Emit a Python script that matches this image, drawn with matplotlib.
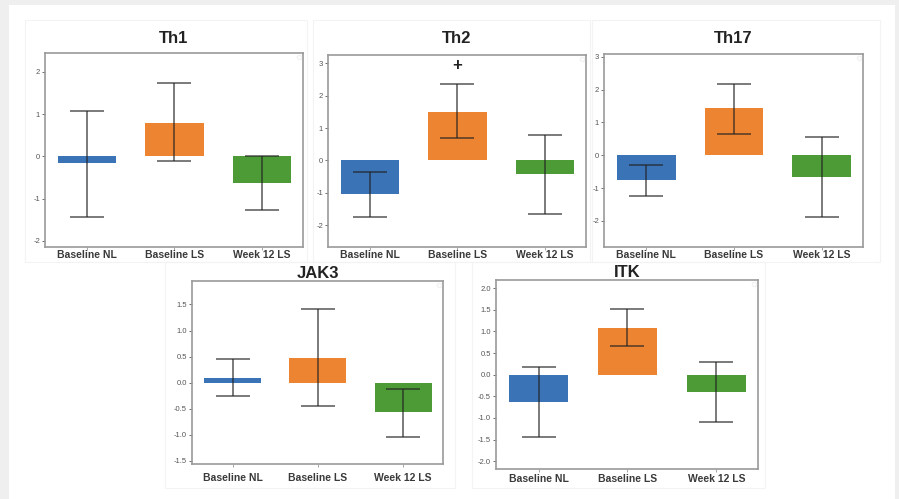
import matplotlib.pyplot as plt
from matplotlib.patches import Rectangle
import numpy as np

plt.rcParams['font.family'] = ['Liberation Sans', 'DejaVu Sans']

# Groups and per-panel values: bar height, lower and upper whisker
groups = ['Baseline NL', 'Baseline LS', 'Week 12 LS']
panel_names = ['Th1', 'Th2', 'Th17', 'JAK3', 'ITK']

th1_mean = [-0.15, 0.80, -0.63]
th1_low = [-1.43, -0.11, -1.27]
th1_high = [1.08, 1.73, 0.0]

th2_mean = [-1.03, 1.51, -0.41]
th2_low = [-1.75, 0.68, -1.67]
th2_high = [-0.35, 2.37, 0.77]

th17_mean = [-0.76, 1.43, -0.67]
th17_low = [-1.23, 0.66, -1.88]
th17_high = [-0.29, 2.18, 0.55]

jak3_mean = [0.08, 0.48, -0.57]
jak3_low = [-0.25, -0.44, -1.04]
jak3_high = [0.46, 1.42, -0.12]

itk_mean = [-0.63, 1.09, -0.39]
itk_low = [-1.45, 0.66, -1.10]
itk_high = [0.18, 1.52, 0.29]

# significance marker on Th2, Baseline LS
th2_marker_y = 2.92

colors = ['#3b74b6', '#ec8431', '#4c9b36']

W, H = 899, 499
fig = plt.figure(figsize=(W / 100, H / 100), dpi=100)
fig.patch.set_facecolor('#efefef')

def box(x0, y0, x1, y1):
    # pixel box (top-left origin) -> figure fraction rect
    return [x0 / W, 1 - y1 / H, (x1 - x0) / W, (y1 - y0) / H]

# white card and faint panel frames
fig.add_artist(Rectangle((9 / W, 0), 886 / W, 494 / H, transform=fig.transFigure,
                         facecolor='white', edgecolor='none', zorder=0))
for (x0, y0, x1, y1) in [(25, 20, 307, 262), (313, 20, 590, 262), (592, 20, 880, 262),
                         (165, 262, 455, 488), (472, 262, 765, 488)]:
    r = box(x0, y0, x1, y1)
    fig.add_artist(Rectangle((r[0], r[1]), r[2], r[3], transform=fig.transFigure,
                             facecolor='none', edgecolor='#f3f3f3', lw=0.8, zorder=0))

panels = [
    ('Th1', th1_mean, th1_low, th1_high, box(45, 53, 303, 247), (-2.15, 2.45),
     np.arange(-2, 3, 1), 7, 0.5),
    ('Th2', th2_mean, th2_low, th2_high, box(328, 55, 586, 247), (-2.68, 3.26),
     np.arange(-2, 4, 1), 8.5, 0.5),
    ('Th17', th17_mean, th17_low, th17_high, box(604, 54, 863, 247), (-2.8, 3.09),
     np.arange(-2, 4, 1), 8, 0.5),
    ('JAK3', jak3_mean, jak3_low, jak3_high, box(192, 281, 443, 464), (-1.56, 1.95),
     np.arange(-1.5, 2.0, 0.5), 1, 4.5),
    ('ITK', itk_mean, itk_low, itk_high, box(496, 280, 758, 469), (-2.18, 2.19),
     np.arange(-2.0, 2.5, 0.5), 2.5, 1.5),
]

x = np.arange(len(groups))
for name, mean, low, high, rect, ylim, yticks, tpad, xpad in panels:
    ax = fig.add_axes(rect)
    mean = np.array(mean)
    low = np.array(low)
    high = np.array(high)
    ax.bar(x, mean, width=0.67, color=colors, zorder=2)
    ax.errorbar(x, mean, yerr=[mean - low, high - mean], fmt='none',
                ecolor='#222222', alpha=0.65, elinewidth=1.3, capsize=12,
                capthick=1.3, zorder=3)
    if name == 'Th2':
        ax.text(1, th2_marker_y, '+', ha='center', va='center',
                fontsize=12, fontweight='bold', color='#222222')
    ax.set_xlim(-0.48, 2.47)
    ax.set_ylim(*ylim)
    ax.set_yticks(yticks)
    if name in ('JAK3', 'ITK'):
        ax.set_yticklabels([f'{v:.1f}' for v in yticks])
    else:
        ax.set_yticklabels([f'{v:.0f}' for v in yticks])
    ax.set_xticks(x)
    ax.set_xticklabels(groups, fontsize=7.5, fontweight='bold')
    ax.tick_params(axis='y', labelsize=5.5, colors='#555555', length=2, width=0.6, pad=1.5)
    ax.tick_params(axis='x', length=2, width=0.6, pad=xpad, colors='#999999',
                   labelcolor='#3a3a3a')
    for s in ax.spines.values():
        s.set_color('#9a9a9a')
        s.set_linewidth(1.2)
    ax.set_title(name, fontsize=12, fontweight='bold', color='#222222', pad=tpad)
    leg = ax.legend(handles=[], loc='upper right', borderpad=0.25, borderaxespad=0.3,
                    framealpha=0.5, fontsize=5)
    leg.get_frame().set_edgecolor('#e6e6e6')

fig.savefig('out.png', dpi=100, facecolor=fig.get_facecolor())
plt.close(fig)
